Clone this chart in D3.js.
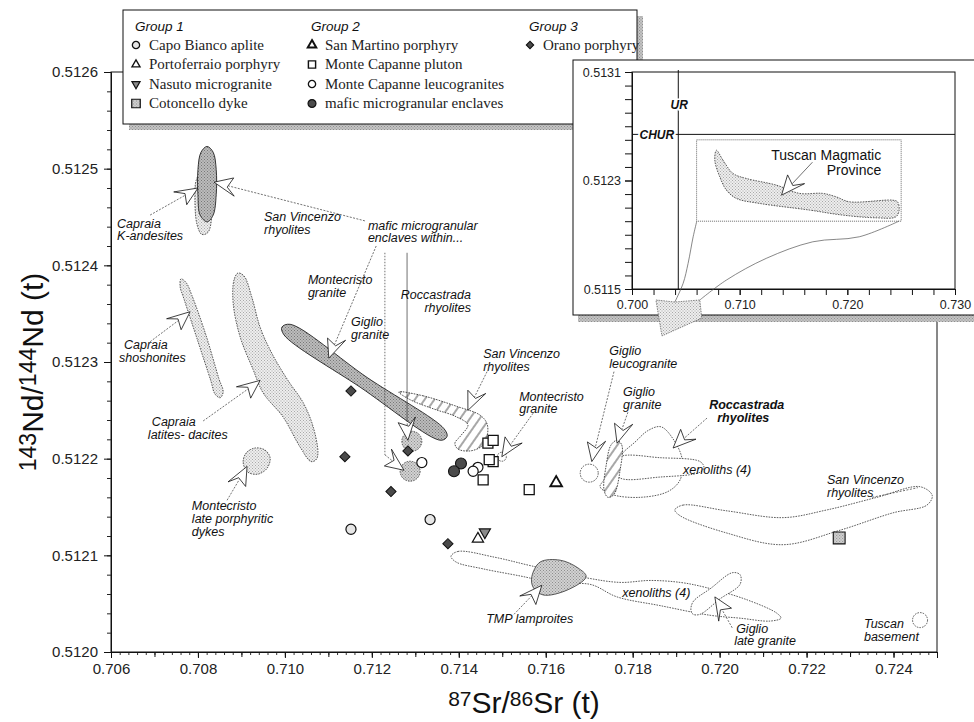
<!DOCTYPE html>
<html>
<head>
<meta charset="utf-8">
<script src="https://cdn.jsdelivr.net/npm/d3@7"></script>
<style>
  body { margin: 0; background: #fff; }
  svg { display: block; }
</style>
</head>
<body>
<svg id="chart" width="974" height="722"></svg>
<script>
// ---------- axis ticks ----------
const xTicks = [0.706, 0.708, 0.710, 0.712, 0.714, 0.716, 0.718, 0.720, 0.722, 0.724];
const yTicks = [0.5120, 0.5121, 0.5122, 0.5123, 0.5124, 0.5125, 0.5126];
const insetXTicks = [0.700, 0.710, 0.720, 0.730];
const insetYTicks = [0.5115, 0.5123, 0.5131];

// ---------- sample data (87Sr/86Sr, 143Nd/144Nd) ----------
const capoBianco = [[0.71152, 0.512127], [0.71334, 0.512137]];
const portoferraio = [[0.71444, 0.512117]];
const nasuto = [[0.71460, 0.512124]];
const cotoncello = [[0.72275, 0.512118]];
const sanMartino = [[0.71624, 0.512175]];
const mcPluton = [[0.71467, 0.512216], [0.71479, 0.512219], [0.71479, 0.512197], [0.71470, 0.512199], [0.71456, 0.512178], [0.71562, 0.512168]];
const mcLeucogranites = [[0.71315, 0.512196], [0.71444, 0.512191], [0.71433, 0.512187]];
const mmEnclaves = [[0.71405, 0.512195], [0.71389, 0.512187]];
const oranoPorphyry = [[0.71152, 0.512270], [0.71283, 0.512208], [0.71138, 0.512202], [0.71244, 0.512166], [0.71375, 0.512112]];

// ---------- literature fields (outlines in data units) ----------
const fieldCapraiaKAndesites = [[0.70807,0.512496],[0.70821,0.512492],[0.70830,0.512473],[0.70832,0.512452],[0.70823,0.512434],[0.70809,0.512432],[0.70798,0.512442],[0.70793,0.512468],[0.70796,0.512488]];
const fieldMmeSanVincenzo = [[0.70821,0.512523],[0.70835,0.512517],[0.70842,0.512499],[0.70842,0.512473],[0.70835,0.512452],[0.70821,0.512445],[0.70805,0.512452],[0.70800,0.512473],[0.70800,0.512499],[0.70807,0.512517]];
const fieldCapraiaShoshonites = [[0.70761,0.512386],[0.70773,0.512382],[0.70786,0.512369],[0.70819,0.512327],[0.70848,0.512283],[0.70858,0.512269],[0.70851,0.512263],[0.70839,0.512267],[0.70830,0.512280],[0.70798,0.512324],[0.70768,0.512365],[0.70759,0.512378]];
const fieldCapraiaLatites = [[0.70892,0.512392],[0.70906,0.512389],[0.70924,0.512367],[0.70943,0.512336],[0.70970,0.512309],[0.71007,0.512281],[0.71042,0.512258],[0.71065,0.512233],[0.71076,0.512206],[0.71072,0.512199],[0.71060,0.512197],[0.71035,0.512212],[0.70996,0.512243],[0.70950,0.512268],[0.70927,0.512292],[0.70897,0.512326],[0.70881,0.512361],[0.70883,0.512385]];
const fieldMontecristoDykes = [[0.70931,0.512211],[0.70954,0.512209],[0.70966,0.512201],[0.70959,0.512190],[0.70938,0.512184],[0.70915,0.512186],[0.70904,0.512196],[0.70911,0.512206]];
const fieldMmeMontecristo = [[0.70993,0.512336],[0.71012,0.512339],[0.71189,0.512284],[0.71366,0.512231],[0.71373,0.512223],[0.71359,0.512219],[0.71173,0.512274],[0.70998,0.512328]];
const fieldSanVincenzoCentre = [[0.71262,0.512269],[0.71318,0.512265],[0.71396,0.512254],[0.71449,0.512245],[0.71465,0.512236],[0.71465,0.512223],[0.71453,0.512213],[0.71426,0.512208],[0.71398,0.512210],[0.71391,0.512216],[0.71405,0.512224],[0.71421,0.512235],[0.71391,0.512244],[0.71345,0.512251],[0.71288,0.512261]];
const fieldRoccastrada = [[0.71725,0.512171],[0.71752,0.512163],[0.71817,0.512160],[0.71881,0.512166],[0.71909,0.512178],[0.71914,0.512199],[0.71895,0.512219],[0.71865,0.512233],[0.71835,0.512229],[0.71805,0.512217],[0.71775,0.512205],[0.71752,0.512190],[0.71734,0.512178]];
const fieldXenolithsUpper = [[0.71755,0.512191],[0.71771,0.512202],[0.71863,0.512201],[0.71955,0.512197],[0.71964,0.512191],[0.71955,0.512186],[0.71863,0.512181],[0.71771,0.512180]];
const fieldGiglioGranite = [[0.71764,0.512219],[0.71775,0.512214],[0.71771,0.512188],[0.71757,0.512163],[0.71743,0.512160],[0.71734,0.512168],[0.71739,0.512193],[0.71750,0.512214]];
const fieldSanVincenzoEast = [[0.71897,0.512147],[0.71916,0.512152],[0.72017,0.512146],[0.72146,0.512139],[0.72247,0.512147],[0.72362,0.512160],[0.72461,0.512171],[0.72489,0.512162],[0.72477,0.512152],[0.72399,0.512144],[0.72277,0.512126],[0.72146,0.512111],[0.72017,0.512123],[0.71909,0.512141]];
const fieldXenolithsLower = [[0.71382,0.512099],[0.71398,0.512104],[0.71483,0.512098],[0.71568,0.512089],[0.71690,0.512077],[0.71771,0.512072],[0.71840,0.512074],[0.71909,0.512072],[0.71966,0.512067],[0.72063,0.512054],[0.72132,0.512040],[0.72141,0.512035],[0.72116,0.512032],[0.72047,0.512035],[0.71978,0.512038],[0.71863,0.512048],[0.71764,0.512057],[0.71702,0.512070],[0.71610,0.512070],[0.71568,0.512076],[0.71456,0.512086],[0.71394,0.512093]];
const fieldTmpLamproites = [[0.71568,0.512078],[0.71587,0.512093],[0.71633,0.512095],[0.71674,0.512087],[0.71693,0.512078],[0.71649,0.512064],[0.71594,0.512059],[0.71571,0.512067]];
const fieldGiglioLateGranite = [[0.71934,0.512043],[0.71939,0.512052],[0.71980,0.512066],[0.72029,0.512082],[0.72047,0.512080],[0.72047,0.512070],[0.72001,0.512055],[0.71955,0.512039],[0.71939,0.512039]];
// small round fields: centre only
const fieldMmeRoccastrada = [0.71292, 0.512218];
const fieldMmeGiglio = [0.71288, 0.512187];
const fieldGiglioLeucogranite = [0.71700, 0.512185];
const fieldMontecristoGranite = [0.71499, 0.512202];
const fieldTuscanBasement = [0.72461, 0.512033];

// Tuscan Magmatic Province envelope (inset)
const fieldTmpInset = [[0.70784,0.512523],[0.70845,0.512450],[0.70938,0.512352],[0.71062,0.512315],[0.71340,0.512266],[0.71556,0.512205],[0.71771,0.512205],[0.71895,0.512180],[0.72019,0.512143],[0.72419,0.512155],[0.72466,0.512143],[0.72481,0.512082],[0.72451,0.512032],[0.72266,0.512025],[0.71957,0.512045],[0.71648,0.512082],[0.71185,0.512131],[0.70969,0.512168],[0.70877,0.512229],[0.70815,0.512327],[0.70769,0.512450]];
const insetUR = 0.7043;
const insetCHUR = 0.51264;

// ---------- legend text ----------
const legendHeads = ["Group 1", "Group 2", "Group 3"];
const legendGroup1 = ["Capo Bianco aplite", "Portoferraio porphyry", "Nasuto microgranite", "Cotoncello dyke"];
const legendGroup2 = ["San Martino porphyry", "Monte Capanne pluton", "Monte Capanne leucogranites", "mafic microgranular enclaves"];
const legendGroup3 = ["Orano porphyry"];

// ---------- annotations (anchors in data units) ----------
const labels = [
  { t: ["Capraia", "K-andesites"], at: [0.70614, 0.512439] },
  { t: ["San Vincenzo", "rhyolites"], at: [0.70952, 0.512446] },
  { t: ["mafic microgranular", "enclaves within..."], at: [0.71191, 0.512437] },
  { t: ["Montecristo", "granite"], at: [0.71053, 0.512381] },
  { t: ["Giglio", "granite"], at: [0.71152, 0.512337] },
  { t: ["Roccastrada", "rhyolites"], at: [0.71428, 0.512365], anchor: "end" },
  { t: ["San Vincenzo", "rhyolites"], at: [0.71456, 0.512304] },
  { t: ["Montecristo", "granite"], at: [0.71539, 0.512260] },
  { t: ["Giglio", "leucogranite"], at: [0.71746, 0.512307] },
  { t: ["Giglio", "granite"], at: [0.71778, 0.512265] },
  { t: ["Roccastrada", "rhyolites"], at: [0.71976, 0.512251], bold: true, dx: [0, 8] },
  { t: ["xenoliths (4)"], at: [0.71916, 0.512184] },
  { t: ["San Vincenzo", "rhyolites"], at: [0.72247, 0.512174] },
  { t: ["xenoliths (4)"], at: [0.71776, 0.512057] },
  { t: ["TMP lamproites"], at: [0.71463, 0.512030] },
  { t: ["Giglio", "late granite"], at: [0.72038, 0.512020], dx: [0, -2] },
  { t: ["Tuscan", "basement"], at: [0.72332, 0.512025] },
  { t: ["Capraia", "shoshonites"], at: [0.70630, 0.512313], dx: [0, -5] },
  { t: ["Capraia", "latites- dacites"], at: [0.70694, 0.512234], dx: [0, -4] },
  { t: ["Montecristo", "late porphyritic", "dykes"], at: [0.70786, 0.512147] }
];
const arrows = [
  { from: [0.70690, 0.512452], to: [0.70800, 0.512480] },
  { from: [0.71184, 0.512446], to: [0.70837, 0.512486] },
  { from: [0.71210, 0.512420], to: [0.71101, 0.512304] },
  { from: [0.71230, 0.512204], to: [0.71274, 0.512188] },
  { from: [0.71281, 0.512240], to: [0.71283, 0.512219] },
  { from: [0.70690, 0.512321], to: [0.70782, 0.512352] },
  { from: [0.70812, 0.512239], to: [0.70943, 0.512281] },
  { from: [0.70867, 0.512157], to: [0.70913, 0.512192] },
  { from: [0.71465, 0.512290], to: [0.71421, 0.512250] },
  { from: [0.71571, 0.512247], to: [0.71499, 0.512202] },
  { from: [0.71757, 0.512290], to: [0.71706, 0.512197] },
  { from: [0.71789, 0.512248], to: [0.71764, 0.512216] },
  { from: [0.71971, 0.512242], to: [0.71893, 0.512211] },
  { from: [0.72029, 0.512025], to: [0.71989, 0.512057] },
  { from: [0.71527, 0.512039], to: [0.71591, 0.512069] }
];
const leaders = [
  { pts: [[0.71230, 0.512413], [0.71230, 0.512204]], dash: "1.5,1.5" },
  { pts: [[0.71281, 0.512413], [0.71281, 0.512240]], dash: null },
  { pts: [[0.72351, 0.512160], [0.72456, 0.512170]], dash: "2,1.5" }
];

// ---------- scales ----------
const x = d3.scaleLinear().domain([0.706, 0.725]).range([111, 937]);
const y = d3.scaleLinear().domain([0.5120, 0.5126]).range([652, 72]);
const ix = d3.scaleLinear().domain([0.700, 0.730]).range([632, 955]);
const iy = d3.scaleLinear().domain([0.5115, 0.5131]).range([289, 72]);

const svg = d3.select("#chart");
const defs = svg.append("defs");
const SANS = "'Liberation Sans', Arial, Helvetica, sans-serif";
const SERIF = "'Liberation Serif', 'Times New Roman', serif";

function stipple(id, base, dot) {
  const p = defs.append("pattern").attr("id", id).attr("width", 3).attr("height", 3)
    .attr("patternUnits", "userSpaceOnUse");
  p.append("rect").attr("width", 3).attr("height", 3).attr("fill", base);
  p.append("rect").attr("x", 0).attr("y", 0).attr("width", 1).attr("height", 1).attr("fill", dot);
  p.append("rect").attr("x", 1.5).attr("y", 1.5).attr("width", 1).attr("height", 1).attr("fill", dot);
}
stipple("stLight", "#eeeeee", "#a9a9a9");
stipple("stMid", "#d2d2d2", "#8d8d8d");
stipple("stDark", "#bcbcbc", "#777777");
stipple("stShadow", "#c4c4c4", "#8f8f8f");
const hatch = defs.append("pattern").attr("id", "hatch").attr("width", 8).attr("height", 8)
  .attr("patternUnits", "userSpaceOnUse").attr("patternTransform", "rotate(35)");
hatch.append("rect").attr("width", 8).attr("height", 8).attr("fill", "#fff");
hatch.append("line").attr("x1", 1).attr("y1", 0).attr("x2", 1).attr("y2", 8)
  .attr("stroke", "#222").attr("stroke-width", 0.8);

const fieldStyle = {
  light:   { fill: "url(#stLight)", stroke: "#333", sw: 0.8, dash: "1.6,1.1" },
  dark:    { fill: "url(#stDark)",  stroke: "#222", sw: 0.9, dash: null },
  mid:     { fill: "url(#stMid)",   stroke: "#333", sw: 0.8, dash: null },
  midDash: { fill: "url(#stMid)",   stroke: "#333", sw: 0.8, dash: "1.6,1.1" },
  hatch:   { fill: "url(#hatch)",   stroke: "#222", sw: 0.8, dash: "1.6,1.1" },
  outline: { fill: "none",          stroke: "#333", sw: 0.8, dash: "1.6,1.1" },
  white:   { fill: "#fff",          stroke: "#333", sw: 0.8, dash: "1.6,1.1" }
};

const fields = [
  { pts: fieldCapraiaKAndesites, s: "light" },
  { pts: fieldMmeSanVincenzo, s: "dark" },
  { pts: fieldCapraiaShoshonites, s: "light" },
  { pts: fieldCapraiaLatites, s: "light" },
  { pts: fieldMontecristoDykes, s: "light" },
  { pts: fieldMmeMontecristo, s: "dark" },
  { pts: fieldSanVincenzoCentre, s: "hatch" },
  { pts: fieldRoccastrada, s: "outline" },
  { pts: fieldXenolithsUpper, s: "white" },
  { pts: fieldGiglioGranite, s: "hatch" },
  { pts: fieldSanVincenzoEast, s: "outline" },
  { pts: fieldXenolithsLower, s: "outline" },
  { pts: fieldTmpLamproites, s: "mid" },
  { pts: fieldGiglioLateGranite, s: "white" }
];
const roundFields = [
  { c: fieldMmeRoccastrada, r: 10, s: "midDash" },
  { c: fieldMmeGiglio, r: 10, s: "midDash" },
  { c: fieldGiglioLeucogranite, r: 9, s: "white" },
  { c: fieldMontecristoGranite, r: 4.5, s: "outline" },
  { c: fieldTuscanBasement, r: 7.5, s: "white" }
];

const markerStyle = {
  capo:   { sym: d3.symbolCircle,   size: 80,  fill: "#e6e6e6", sw: 1.2, rot: 0 },
  porto:  { sym: d3.symbolTriangle, size: 55,  fill: "#fff",    sw: 1.2, rot: 0 },
  nasuto: { sym: d3.symbolTriangle, size: 55,  fill: "#8a8a8a", sw: 1.1, rot: 180 },
  coton:  { sym: d3.symbolSquare,   size: 140, fill: "url(#stMid)", sw: 1.1, rot: 0 },
  sanmar: { sym: d3.symbolTriangle, size: 60,  fill: "#fff",    sw: 1.8, rot: 0 },
  pluton: { sym: d3.symbolSquare,   size: 100, fill: "#fff",    sw: 1.3, rot: 0 },
  leuco:  { sym: d3.symbolCircle,   size: 80,  fill: "#fff",    sw: 1.2, rot: 0 },
  mme:    { sym: d3.symbolCircle,   size: 95,  fill: "#4b4b4b", sw: 1.1, rot: 0 },
  orano:  { sym: d3.symbolSquare,   size: 52,  fill: "#4a4a4a", sw: 1.0, rot: 45 }
};
const series = [
  { d: capoBianco, k: "capo" },
  { d: mcLeucogranites, k: "leuco" },
  { d: mmEnclaves, k: "mme" },
  { d: mcPluton, k: "pluton" },
  { d: portoferraio, k: "porto" },
  { d: nasuto, k: "nasuto" },
  { d: sanMartino, k: "sanmar" },
  { d: cotoncello, k: "coton" },
  { d: oranoPorphyry, k: "orano" }
];

// ---------- main plot ----------
const plot = svg.append("g");
plot.append("rect")
  .attr("x", x(0.706)).attr("y", y(0.5126))
  .attr("width", x(0.725) - x(0.706)).attr("height", y(0.5120) - y(0.5126))
  .attr("fill", "#fff").attr("stroke", "#111").attr("stroke-width", 1);

function styleAxis(g, size) {
  g.select(".domain").attr("stroke", "#111");
  g.selectAll(".tick line").attr("stroke", "#111");
  g.selectAll(".tick text").attr("fill", "#222").style("font-family", SANS).style("font-size", size + "px");
}

// x axis with minor ticks
const gx = plot.append("g").attr("transform", `translate(0,${y(0.5120)})`);
gx.append("g").call(d3.axisBottom(x).tickValues(d3.range(0.7060, 0.72501, 0.0002)).tickSize(3).tickFormat(""))
  .call(g => { g.select(".domain").remove(); g.selectAll("line").attr("stroke", "#333"); });
gx.append("g").call(d3.axisBottom(x).tickValues(d3.range(0.706, 0.72501, 0.001)).tickSize(5).tickFormat(""))
  .call(g => { g.select(".domain").remove(); g.selectAll("line").attr("stroke", "#111"); });
gx.append("g").call(d3.axisBottom(x).tickValues(xTicks).tickFormat(d3.format(".3f")).tickSize(6).tickPadding(5))
  .call(g => styleAxis(g, 15));

// y axis with minor ticks
const gy = plot.append("g").attr("transform", `translate(${x(0.706)},0)`);
gy.append("g").call(d3.axisLeft(y).tickValues(d3.range(0.51200, 0.512601, 0.00002)).tickSize(4).tickFormat(""))
  .call(g => { g.select(".domain").remove(); g.selectAll("line").attr("stroke", "#222"); });
gy.append("g").call(d3.axisLeft(y).tickValues(yTicks).tickFormat(d3.format(".4f")).tickSize(7).tickPadding(6))
  .call(g => styleAxis(g, 15));

// axis titles
const xt = svg.append("text").attr("x", 524).attr("y", 713).attr("text-anchor", "middle")
  .style("font-family", SANS).style("font-size", "30px").attr("fill", "#111");
xt.append("tspan").attr("baseline-shift", "35%").style("font-size", "21px").text("87");
xt.append("tspan").text("Sr/");
xt.append("tspan").attr("baseline-shift", "35%").style("font-size", "21px").text("86");
xt.append("tspan").text("Sr (t)");

const yt = svg.append("text").attr("transform", "translate(43,372) rotate(-90)").attr("text-anchor", "middle")
  .style("font-family", SANS).style("font-size", "30px").attr("fill", "#111");
yt.append("tspan").attr("baseline-shift", "30%").style("font-size", "23px").text("143");
yt.append("tspan").text("Nd/");
yt.append("tspan").attr("baseline-shift", "30%").style("font-size", "23px").text("144");
yt.append("tspan").text("Nd (t)");

// fields
const fieldPath = d3.line().x(d => x(d[0])).y(d => y(d[1])).curve(d3.curveCatmullRomClosed.alpha(0.5));
const gFields = plot.append("g");
function applyStyle(sel, st) {
  sel.attr("fill", st.fill).attr("stroke", st.stroke).attr("stroke-width", st.sw)
    .attr("stroke-dasharray", st.dash);
}
fields.forEach(f => applyStyle(gFields.append("path").attr("d", fieldPath(f.pts)), fieldStyle[f.s]));
roundFields.forEach(f => applyStyle(
  gFields.append("circle").attr("cx", x(f.c[0])).attr("cy", y(f.c[1])).attr("r", f.r), fieldStyle[f.s]));

// annotations
const gAnn = plot.append("g");
function arrowHead(g, x0, y0, x1, y1, k = 1, lineDash = "2,1.4") {
  const a = Math.atan2(y1 - y0, x1 - x0), c = Math.cos(a), s = Math.sin(a);
  const P = ([u, v]) => [x1 + k * (u * c - v * s), y1 + k * (u * s + v * c)];
  const head = [[0, 0], [-23, -8.5], [-14, -1.5], [-18, 9]].map(P);
  const notch = P([-15, 0]);
  g.append("line").attr("x1", x0).attr("y1", y0).attr("x2", notch[0]).attr("y2", notch[1])
    .attr("stroke", "#333").attr("stroke-width", 0.7).attr("stroke-dasharray", lineDash);
  g.append("path").attr("d", "M" + head.join("L") + "Z")
    .attr("fill", "#fff").attr("stroke", "#111").attr("stroke-width", 0.8).attr("stroke-linejoin", "miter");
}
leaders.forEach(l => {
  gAnn.append("path").attr("d", d3.line().x(d => x(d[0])).y(d => y(d[1]))(l.pts))
    .attr("fill", "none").attr("stroke", "#333").attr("stroke-width", 0.7).attr("stroke-dasharray", l.dash);
});
arrows.forEach(a => arrowHead(gAnn, x(a.from[0]), y(a.from[1]), x(a.to[0]), y(a.to[1])));

labels.forEach(l => {
  const t = gAnn.append("text").attr("x", x(l.at[0])).attr("y", y(l.at[1]))
    .attr("text-anchor", l.anchor || "start")
    .style("font-family", SANS).style("font-size", "12.5px").style("font-style", "italic")
    .style("font-weight", l.bold ? "bold" : "normal").attr("fill", "#111");
  l.t.forEach((line, i) => t.append("tspan").attr("x", x(l.at[0]) + ((l.dx && l.dx[i]) || 0))
    .attr("dy", i ? 12.8 : 0).text(line));
});

// sample markers
const gMarks = plot.append("g");
function marker(g, k, cx, cy, scale = 1) {
  const st = markerStyle[k];
  g.append("path").attr("d", d3.symbol(st.sym, st.size * scale * scale)())
    .attr("transform", `translate(${cx},${cy}) rotate(${st.rot})`)
    .attr("fill", st.fill).attr("stroke", "#111").attr("stroke-width", st.sw * (scale < 1 ? 1.1 : 1));
}
series.forEach(s => s.d.forEach(p => marker(gMarks, s.k, x(p[0]), y(p[1]))));

// ---------- legend ----------
const gLeg = svg.append("g");
gLeg.append("rect").attr("x", 129).attr("y", 16).attr("width", 514).attr("height", 114).attr("fill", "url(#stShadow)");
gLeg.append("rect").attr("x", 123).attr("y", 10).attr("width", 514).attr("height", 114)
  .attr("fill", "#fff").attr("stroke", "#111").attr("stroke-width", 1);
const colX = [136, 312, 530];
legendHeads.forEach((h, i) => gLeg.append("text").attr("x", colX[i] - 1).attr("y", 31).text(h)
  .style("font-family", SANS).style("font-style", "italic").style("font-size", "13.5px").attr("fill", "#111"));
const legendCols = [
  { items: legendGroup1, keys: ["capo", "porto", "nasuto", "coton"] },
  { items: legendGroup2, keys: ["sanmar", "pluton", "leuco", "mme"] },
  { items: legendGroup3, keys: ["orano"] }
];
const rowY = [45, 64.5, 84, 103.5];
legendCols.forEach((col, ci) => col.items.forEach((name, ri) => {
  marker(gLeg, col.keys[ri], colX[ci], rowY[ri], 0.72);
  gLeg.append("text").attr("x", colX[ci] + 13).attr("y", rowY[ri] + 4.5).text(name)
    .style("font-family", SERIF).style("font-size", "15px").attr("fill", "#222");
}));

// ---------- inset ----------
const gIn = svg.append("g");
gIn.append("rect").attr("x", 578).attr("y", 315).attr("width", 400).attr("height", 7).attr("fill", "url(#stShadow)");
gIn.append("rect").attr("x", 573).attr("y", 60).attr("width", 420).attr("height", 255)
  .attr("fill", "#fff").attr("stroke", "#111").attr("stroke-width", 1);
gIn.append("rect").attr("x", ix(0.700)).attr("y", iy(0.5131))
  .attr("width", ix(0.730) - ix(0.700)).attr("height", iy(0.5115) - iy(0.5131))
  .attr("fill", "none").attr("stroke", "#111").attr("stroke-width", 1);
const gix = gIn.append("g").attr("transform", `translate(0,${iy(0.5115)})`);
gix.append("g").call(d3.axisBottom(ix).tickValues(d3.range(0.700, 0.7301, 0.002)).tickSize(6).tickFormat(""))
  .call(g => { g.select(".domain").remove(); g.selectAll("line").attr("stroke", "#111"); });
gix.append("g").call(d3.axisBottom(ix).tickValues(insetXTicks).tickFormat(d3.format(".3f")).tickSize(6).tickPadding(5))
  .call(g => styleAxis(g, 12.5));
const giy = gIn.append("g").attr("transform", `translate(${ix(0.700)},0)`);
giy.append("g").call(d3.axisLeft(iy).tickValues(d3.range(0.5115, 0.51311, 0.0001)).tickSize(7).tickFormat(""))
  .call(g => { g.select(".domain").remove(); g.selectAll("line").attr("stroke", "#111"); });
giy.append("g").call(d3.axisLeft(iy).tickValues(insetYTicks).tickFormat(d3.format(".4f")).tickSize(7).tickPadding(4))
  .call(g => styleAxis(g, 12.5));

// reference lines
gIn.append("line").attr("x1", ix(insetUR)).attr("x2", ix(insetUR)).attr("y1", iy(0.5131) - 2).attr("y2", iy(0.5115))
  .attr("stroke", "#111").attr("stroke-width", 1);
gIn.append("line").attr("x1", ix(0.700)).attr("x2", ix(0.730)).attr("y1", iy(insetCHUR)).attr("y2", iy(insetCHUR))
  .attr("stroke", "#111").attr("stroke-width", 1);
gIn.append("text").attr("x", ix(insetUR) + 1).attr("y", iy(0.51283)).attr("text-anchor", "middle").text("UR")
  .style("font-family", SANS).style("font-size", "12px").style("font-style", "italic").style("font-weight", "bold")
  .attr("stroke", "#fff").attr("stroke-width", 3).attr("paint-order", "stroke").attr("fill", "#111");
gIn.append("text").attr("x", ix(0.7007)).attr("y", iy(insetCHUR) + 4.5).text("CHUR")
  .style("font-family", SANS).style("font-size", "12px").style("font-style", "italic").style("font-weight", "bold")
  .attr("stroke", "#fff").attr("stroke-width", 4).attr("paint-order", "stroke").attr("fill", "#111");

// zoom frame showing the main diagram window
gIn.append("rect").attr("x", ix(0.706)).attr("y", iy(0.5126))
  .attr("width", ix(0.725) - ix(0.706)).attr("height", iy(0.5120) - iy(0.5126))
  .attr("fill", "none").attr("stroke", "#444").attr("stroke-width", 0.8).attr("stroke-dasharray", "1,1");

const insetPath = d3.line().x(d => ix(d[0])).y(d => iy(d[1])).curve(d3.curveCatmullRomClosed.alpha(0.5));
applyStyle(gIn.append("path").attr("d", insetPath(fieldTmpInset)), fieldStyle.light);
const tmpLab = gIn.append("text").attr("text-anchor", "end")
  .style("font-family", SANS).style("font-size", "14px").attr("fill", "#111");
tmpLab.append("tspan").attr("x", ix(0.72315)).attr("y", iy(0.51245)).text("Tuscan Magmatic");
tmpLab.append("tspan").attr("x", ix(0.72315)).attr("dy", 14.5).text("Province");
arrowHead(gIn, ix(0.71676), iy(0.512435), ix(0.71389), iy(0.512192), 1.05, null);

// funnel leading from the zoom frame into the main diagram
const leftSide = [[0.70602, 0.512001], [0.70568, 0.511885], [0.70521, 0.511689], [0.70475, 0.511542], [0.70398, 0.511404]];
const rightSide = [[0.72481, 0.512001], [0.72111, 0.511885], [0.71679, 0.511848], [0.71247, 0.511726], [0.70877, 0.511566], [0.70630, 0.511419]];
const funnelHead = [[0.70398, 0.511404], [0.70222, 0.511419], [0.70278, 0.511154], [0.70648, 0.511286], [0.70630, 0.511419]];
const sideLine = d3.line().x(d => ix(d[0])).y(d => iy(d[1])).curve(d3.curveCatmullRom);
[leftSide, rightSide].forEach(side => svg.append("path").attr("d", sideLine(side))
  .attr("fill", "none").attr("stroke", "#555").attr("stroke-width", 0.7));
svg.append("path").attr("d", d3.line().x(d => ix(d[0])).y(d => iy(d[1]))(funnelHead) + "Z")
  .attr("fill", "url(#stLight)").attr("stroke", "#555").attr("stroke-width", 0.7).attr("stroke-dasharray", "1.5,1");
</script>
</body>
</html>
